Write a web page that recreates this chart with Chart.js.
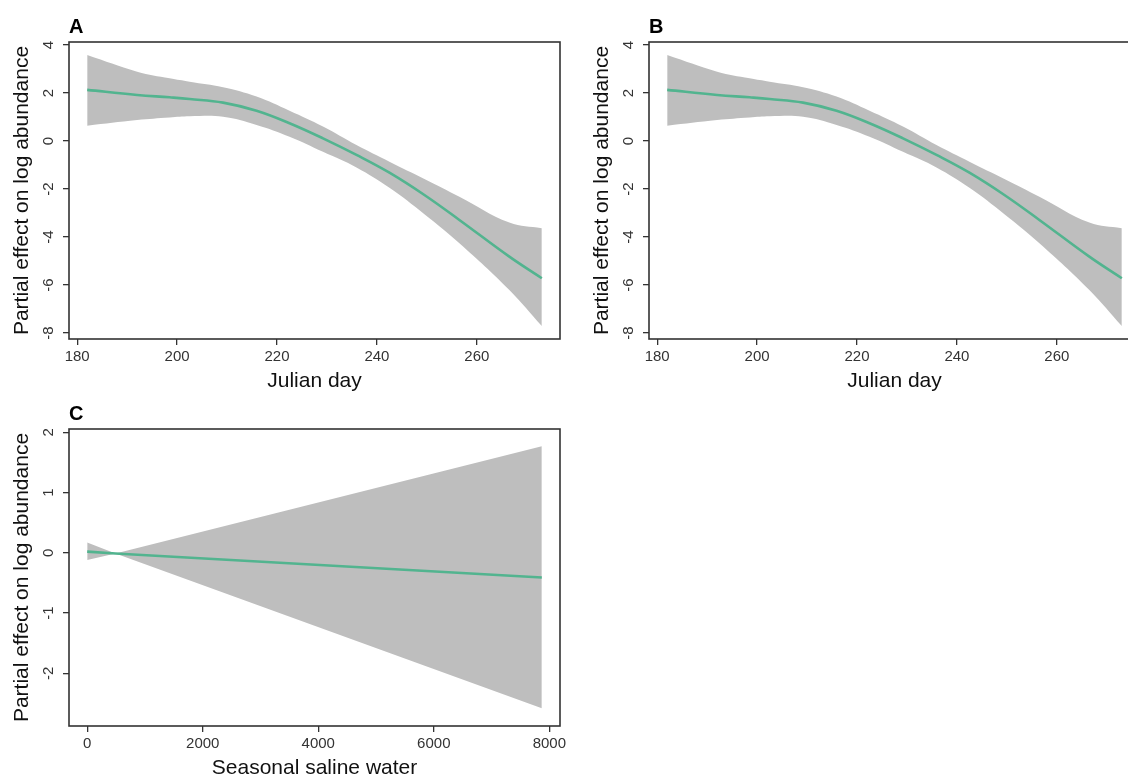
<!DOCTYPE html>
<html>
<head>
<meta charset="utf-8">
<script src="https://cdn.jsdelivr.net/npm/chart.js@4.4.1/dist/chart.umd.min.js"></script>
<style>
  body { margin: 0; background: #fff; overflow: hidden; width: 1128px; height: 779px; position: relative; }
  canvas { position: absolute; }
</style>
</head>
<body>
<canvas id="chartA" width="580" height="400" style="left:0;top:0"></canvas>
<canvas id="chartB" width="580" height="400" style="left:580px;top:0"></canvas>
<canvas id="chartC" width="580" height="400" style="left:0;top:387px"></canvas>
<script>
// panels A and B: smooth term for Julian day (both panels show the same curve)
var julianDay = [182, 192, 198.5, 202.5, 209.2, 215.9, 222.5, 229.2, 235.9, 242.5, 249.5, 256.5, 266.5, 273];
var dayFit    = [2.13, 1.92, 1.82, 1.75, 1.60, 1.26, 0.74, 0.11, -0.58, -1.32, -2.25, -3.29, -4.82, -5.72];
var dayUpper  = [3.58, 2.89, 2.61, 2.47, 2.24, 1.85, 1.26, 0.60, -0.17, -0.86, -1.58, -2.32, -3.40, -3.64];
var dayLower  = [0.64, 0.875, 0.98, 1.03, 1.01, 0.67, 0.18, -0.45, -1.10, -1.95, -3.05, -4.26, -6.21, -7.71];
var dayXTicks = [180, 200, 220, 240, 260];
var dayYTicks = [-8, -6, -4, -2, 0, 2, 4];

// panel C: linear term for seasonal saline water
var salineWater = [0, 490, 7870];
var salineFit   = [0.02, -0.01, -0.41];
var salineUpper = [0.17, -0.01, 1.77];
var salineLower = [-0.12, -0.01, -2.58];
var salineXTicks = [0, 2000, 4000, 6000, 8000];
var salineYTicks = [-2, -1, 0, 1, 2];

var FONT = '"Liberation Sans", Arial, Helvetica, sans-serif';

// R-style box round the plot and y tick labels turned on their side
var rBox = {
  id: 'rBox',
  afterDraw: function(chart) {
    var ctx = chart.ctx, a = chart.chartArea, ys = chart.scales.y;
    ctx.save();
    ctx.strokeStyle = '#333';
    ctx.lineWidth = 1.6;
    ctx.strokeRect(a.left, a.top, a.right - a.left, a.bottom - a.top);
    ctx.fillStyle = '#333';
    ctx.font = '15px ' + FONT;
    ctx.textAlign = 'center';
    ctx.textBaseline = 'middle';
    ys.ticks.forEach(function(t) {
      var py = ys.getPixelForValue(t.value);
      ctx.save();
      ctx.translate(a.left - 20, py);
      ctx.rotate(-Math.PI / 2);
      ctx.fillText(String(t.value), 0, 0);
      ctx.restore();
    });
    ctx.restore();
  }
};

function pts(xs, ys) {
  return xs.map(function(x, i) { return {x: x, y: ys[i]}; });
}

function panel(id, letter, xs, fit, up, lo, xTitle, xMin, xMax, yMin, yMax, xTicks, yTicks, tension) {
  var ctx = document.getElementById(id).getContext('2d');
  return new Chart(ctx, {
    type: 'line',
    data: {
      datasets: [{
        data: pts(xs, fit),
        borderColor: '#52b48f',
        borderWidth: 2.6,
        pointRadius: 0,
        fill: false,
        tension: tension
      }, {
        data: pts(xs, up),
        borderColor: 'rgba(0,0,0,0)',
        borderWidth: 0,
        backgroundColor: '#bebebe',
        pointRadius: 0,
        fill: '+1',
        tension: tension
      }, {
        data: pts(xs, lo),
        borderColor: 'rgba(0,0,0,0)',
        borderWidth: 0,
        pointRadius: 0,
        fill: false,
        tension: tension
      }]
    },
    options: {
      responsive: false,
      animation: false,
      layout: { padding: { top: 0, left: 0, right: 20, bottom: 0 } },
      plugins: {
        legend: { display: false },
        tooltip: { enabled: false },
        title: {
          display: true,
          text: letter,
          align: 'start',
          fullSize: false,
          color: '#000',
          font: { family: FONT, size: 20, weight: 'bold' },
          padding: { top: 15, bottom: 3 }
        }
      },
      scales: {
        x: {
          type: 'linear',
          min: xMin,
          max: xMax,
          afterBuildTicks: function(s) { s.ticks = xTicks.map(function(v) { return {value: v}; }); },
          afterFit: function(s) { s.height = 61; },
          grid: { drawOnChartArea: false, drawTicks: true, tickLength: 6, color: '#333', lineWidth: 1.3 },
          border: { display: false },
          ticks: {
            color: '#333', padding: 3, maxRotation: 0, autoSkip: false,
            font: { family: FONT, size: 15 },
            callback: function(v) { return String(v); }
          },
          title: {
            display: true, text: xTitle, color: '#111',
            font: { family: FONT, size: 21 },
            padding: { top: 0, bottom: 6 }
          }
        },
        y: {
          type: 'linear',
          min: yMin,
          max: yMax,
          afterBuildTicks: function(s) { s.ticks = yTicks.map(function(v) { return {value: v}; }); },
          afterFit: function(s) { s.width = 69; },
          grid: { drawOnChartArea: false, drawTicks: true, tickLength: 6, color: '#333', lineWidth: 1.3 },
          border: { display: false },
          ticks: { display: false },
          title: {
            display: true, text: 'Partial effect on log abundance', color: '#111',
            font: { family: FONT, size: 21 },
            padding: { top: 10, bottom: 0 }
          }
        }
      }
    },
    plugins: [rBox]
  });
}

panel('chartA', 'A', julianDay, dayFit, dayUpper, dayLower, 'Julian day',
      178.36, 276.64, -8.25, 4.125, dayXTicks, dayYTicks, 0.4);
panel('chartB', 'B', julianDay, dayFit, dayUpper, dayLower, 'Julian day',
      178.36, 276.64, -8.25, 4.125, dayXTicks, dayYTicks, 0.4);
panel('chartC', 'C', salineWater, salineFit, salineUpper, salineLower, 'Seasonal saline water',
      -315, 8185, -2.874, 2.056, salineXTicks, salineYTicks, 0);
</script>
</body>
</html>
